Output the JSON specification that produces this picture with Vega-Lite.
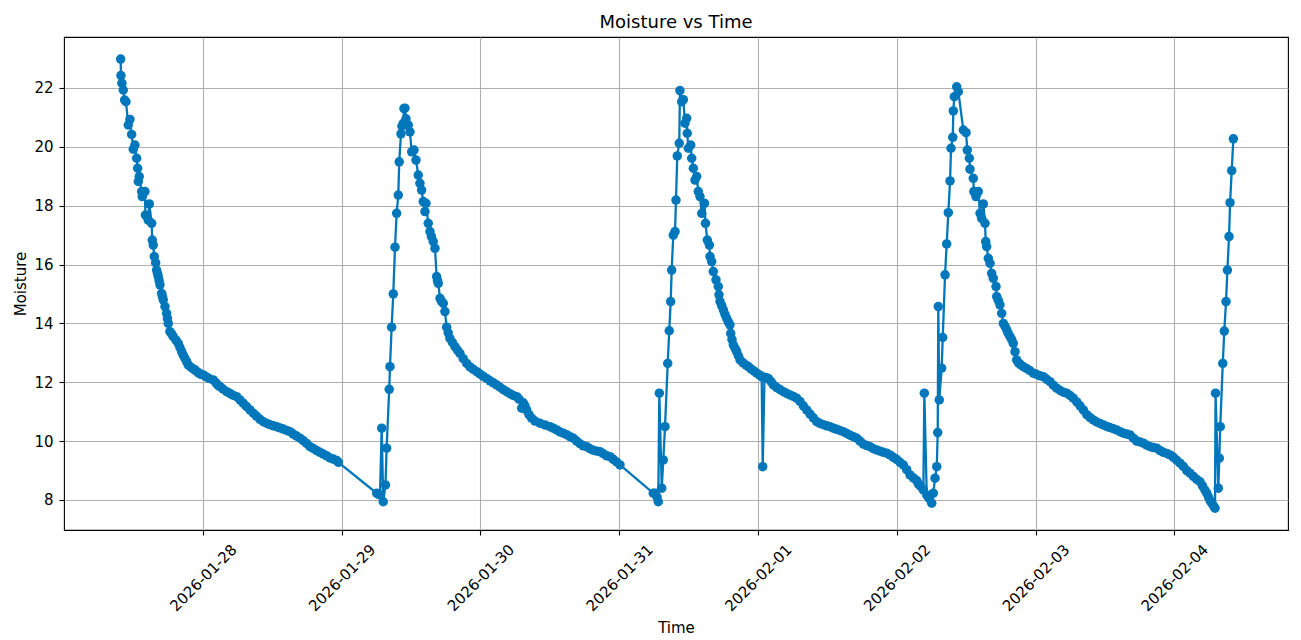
{
  "$schema": "https://vega.github.io/schema/vega-lite/v6.json",
  "width": 1224,
  "height": 493,
  "autosize": {"type": "none"},
  "padding": {"left": 64, "top": 37, "right": 13, "bottom": 110},
  "title": {
    "text": "Moisture vs Time",
    "fontSize": 18,
    "fontWeight": "normal",
    "font": "DejaVu Sans",
    "color": "black",
    "anchor": "middle",
    "baseline": "alphabetic",
    "offset": 9.5,
    "dy": 18.5
  },
  "data": {
    "values": [
      {"t": "2026-01-27T09:46", "m": 22.98},
      {"t": "2026-01-27T09:49", "m": 22.42},
      {"t": "2026-01-27T09:59", "m": 22.16},
      {"t": "2026-01-27T10:13", "m": 21.93},
      {"t": "2026-01-27T10:27", "m": 21.59},
      {"t": "2026-01-27T10:41", "m": 21.53},
      {"t": "2026-01-27T11:05", "m": 20.74},
      {"t": "2026-01-27T11:22", "m": 20.93},
      {"t": "2026-01-27T11:40", "m": 20.42},
      {"t": "2026-01-27T11:57", "m": 19.92},
      {"t": "2026-01-27T12:14", "m": 20.06},
      {"t": "2026-01-27T12:32", "m": 19.61},
      {"t": "2026-01-27T12:42", "m": 19.27},
      {"t": "2026-01-27T12:49", "m": 18.82},
      {"t": "2026-01-27T12:59", "m": 18.99},
      {"t": "2026-01-27T13:24", "m": 18.48},
      {"t": "2026-01-27T13:30", "m": 18.31},
      {"t": "2026-01-27T13:58", "m": 18.48},
      {"t": "2026-01-27T14:03", "m": 17.68},
      {"t": "2026-01-27T14:32", "m": 17.51},
      {"t": "2026-01-27T14:43", "m": 18.06},
      {"t": "2026-01-27T15:08", "m": 17.40},
      {"t": "2026-01-27T15:14", "m": 16.83},
      {"t": "2026-01-27T15:24", "m": 16.66},
      {"t": "2026-01-27T15:35", "m": 16.27},
      {"t": "2026-01-27T15:49", "m": 16.06},
      {"t": "2026-01-27T15:59", "m": 15.81},
      {"t": "2026-01-27T16:08", "m": 15.70},
      {"t": "2026-01-27T16:16", "m": 15.59},
      {"t": "2026-01-27T16:25", "m": 15.45},
      {"t": "2026-01-27T16:34", "m": 15.31},
      {"t": "2026-01-27T16:51", "m": 15.02},
      {"t": "2026-01-27T17:00", "m": 14.91},
      {"t": "2026-01-27T17:08", "m": 14.80},
      {"t": "2026-01-27T17:26", "m": 14.57},
      {"t": "2026-01-27T17:43", "m": 14.34},
      {"t": "2026-01-27T17:51", "m": 14.17},
      {"t": "2026-01-27T18:00", "m": 14.00},
      {"t": "2026-01-27T18:17", "m": 13.72},
      {"t": "2026-01-27T18:35", "m": 13.64},
      {"t": "2026-01-27T18:52", "m": 13.55},
      {"t": "2026-01-27T19:20", "m": 13.43},
      {"t": "2026-01-27T19:44", "m": 13.32},
      {"t": "2026-01-27T20:01", "m": 13.18},
      {"t": "2026-01-27T20:19", "m": 13.04},
      {"t": "2026-01-27T20:35", "m": 12.92},
      {"t": "2026-01-27T20:53", "m": 12.81},
      {"t": "2026-01-27T21:11", "m": 12.70},
      {"t": "2026-01-27T21:27", "m": 12.59},
      {"t": "2026-01-27T21:55", "m": 12.51},
      {"t": "2026-01-27T22:16", "m": 12.46},
      {"t": "2026-01-27T22:37", "m": 12.42},
      {"t": "2026-01-27T22:58", "m": 12.36},
      {"t": "2026-01-27T23:18", "m": 12.31},
      {"t": "2026-01-27T23:39", "m": 12.27},
      {"t": "2026-01-28T00:03", "m": 12.25},
      {"t": "2026-01-28T00:31", "m": 12.19},
      {"t": "2026-01-28T01:02", "m": 12.13},
      {"t": "2026-01-28T01:47", "m": 12.08},
      {"t": "2026-01-28T02:15", "m": 11.98},
      {"t": "2026-01-28T02:36", "m": 11.90},
      {"t": "2026-01-28T02:56", "m": 11.85},
      {"t": "2026-01-28T03:28", "m": 11.77},
      {"t": "2026-01-28T04:06", "m": 11.68},
      {"t": "2026-01-28T04:40", "m": 11.62},
      {"t": "2026-01-28T05:11", "m": 11.56},
      {"t": "2026-01-28T05:50", "m": 11.51},
      {"t": "2026-01-28T06:24", "m": 11.40},
      {"t": "2026-01-28T06:58", "m": 11.29},
      {"t": "2026-01-28T07:31", "m": 11.18},
      {"t": "2026-01-28T08:08", "m": 11.06},
      {"t": "2026-01-28T08:42", "m": 10.95},
      {"t": "2026-01-28T09:15", "m": 10.85},
      {"t": "2026-01-28T09:52", "m": 10.74},
      {"t": "2026-01-28T10:26", "m": 10.66},
      {"t": "2026-01-28T11:04", "m": 10.60},
      {"t": "2026-01-28T11:35", "m": 10.56},
      {"t": "2026-01-28T12:12", "m": 10.52},
      {"t": "2026-01-28T12:45", "m": 10.49},
      {"t": "2026-01-28T13:19", "m": 10.45},
      {"t": "2026-01-28T13:53", "m": 10.41},
      {"t": "2026-01-28T14:29", "m": 10.36},
      {"t": "2026-01-28T15:03", "m": 10.32},
      {"t": "2026-01-28T15:37", "m": 10.24},
      {"t": "2026-01-28T16:12", "m": 10.17},
      {"t": "2026-01-28T16:47", "m": 10.10},
      {"t": "2026-01-28T17:21", "m": 10.02},
      {"t": "2026-01-28T17:56", "m": 9.92},
      {"t": "2026-01-28T18:30", "m": 9.81},
      {"t": "2026-01-28T19:05", "m": 9.75},
      {"t": "2026-01-28T19:40", "m": 9.68},
      {"t": "2026-01-28T20:14", "m": 9.62},
      {"t": "2026-01-28T20:49", "m": 9.56},
      {"t": "2026-01-28T21:24", "m": 9.50},
      {"t": "2026-01-28T21:58", "m": 9.43},
      {"t": "2026-01-28T22:33", "m": 9.39},
      {"t": "2026-01-28T23:08", "m": 9.34},
      {"t": "2026-01-28T23:26", "m": 9.28},
      {"t": "2026-01-29T06:03", "m": 8.23},
      {"t": "2026-01-29T06:21", "m": 8.20},
      {"t": "2026-01-29T06:37", "m": 8.17},
      {"t": "2026-01-29T06:55", "m": 10.44},
      {"t": "2026-01-29T07:11", "m": 7.94},
      {"t": "2026-01-29T07:34", "m": 8.51},
      {"t": "2026-01-29T07:46", "m": 9.76},
      {"t": "2026-01-29T08:13", "m": 11.76},
      {"t": "2026-01-29T08:21", "m": 12.53},
      {"t": "2026-01-29T08:38", "m": 13.87},
      {"t": "2026-01-29T08:55", "m": 15.00},
      {"t": "2026-01-29T09:13", "m": 16.59},
      {"t": "2026-01-29T09:30", "m": 17.74},
      {"t": "2026-01-29T09:47", "m": 18.36},
      {"t": "2026-01-29T09:57", "m": 19.49},
      {"t": "2026-01-29T10:15", "m": 20.44},
      {"t": "2026-01-29T10:25", "m": 20.70},
      {"t": "2026-01-29T10:39", "m": 20.80},
      {"t": "2026-01-29T10:46", "m": 21.30},
      {"t": "2026-01-29T10:56", "m": 21.31},
      {"t": "2026-01-29T11:07", "m": 20.95},
      {"t": "2026-01-29T11:31", "m": 20.74},
      {"t": "2026-01-29T11:48", "m": 20.51},
      {"t": "2026-01-29T12:06", "m": 19.83},
      {"t": "2026-01-29T12:30", "m": 19.89},
      {"t": "2026-01-29T12:51", "m": 19.55},
      {"t": "2026-01-29T13:14", "m": 19.04},
      {"t": "2026-01-29T13:32", "m": 18.76},
      {"t": "2026-01-29T13:49", "m": 18.53},
      {"t": "2026-01-29T14:06", "m": 18.14},
      {"t": "2026-01-29T14:24", "m": 17.80},
      {"t": "2026-01-29T14:34", "m": 18.08},
      {"t": "2026-01-29T14:58", "m": 17.40},
      {"t": "2026-01-29T15:16", "m": 17.12},
      {"t": "2026-01-29T15:31", "m": 16.95},
      {"t": "2026-01-29T15:50", "m": 16.78},
      {"t": "2026-01-29T16:08", "m": 16.55},
      {"t": "2026-01-29T16:25", "m": 15.59},
      {"t": "2026-01-29T16:34", "m": 15.45},
      {"t": "2026-01-29T16:42", "m": 15.36},
      {"t": "2026-01-29T17:00", "m": 14.85},
      {"t": "2026-01-29T17:15", "m": 14.75},
      {"t": "2026-01-29T17:34", "m": 14.68},
      {"t": "2026-01-29T17:51", "m": 14.40},
      {"t": "2026-01-29T18:09", "m": 13.87},
      {"t": "2026-01-29T18:25", "m": 13.68},
      {"t": "2026-01-29T18:43", "m": 13.49},
      {"t": "2026-01-29T19:09", "m": 13.35},
      {"t": "2026-01-29T19:35", "m": 13.21},
      {"t": "2026-01-29T20:01", "m": 13.09},
      {"t": "2026-01-29T20:27", "m": 12.98},
      {"t": "2026-01-29T21:01", "m": 12.80},
      {"t": "2026-01-29T21:37", "m": 12.64},
      {"t": "2026-01-29T22:11", "m": 12.52},
      {"t": "2026-01-29T22:45", "m": 12.44},
      {"t": "2026-01-29T23:21", "m": 12.36},
      {"t": "2026-01-29T23:55", "m": 12.28},
      {"t": "2026-01-30T00:29", "m": 12.20},
      {"t": "2026-01-30T01:04", "m": 12.13},
      {"t": "2026-01-30T01:39", "m": 12.05},
      {"t": "2026-01-30T02:13", "m": 11.98},
      {"t": "2026-01-30T02:48", "m": 11.91},
      {"t": "2026-01-30T03:22", "m": 11.83},
      {"t": "2026-01-30T03:57", "m": 11.75},
      {"t": "2026-01-30T04:32", "m": 11.68},
      {"t": "2026-01-30T05:06", "m": 11.61},
      {"t": "2026-01-30T05:40", "m": 11.55},
      {"t": "2026-01-30T06:16", "m": 11.51},
      {"t": "2026-01-30T06:40", "m": 11.43},
      {"t": "2026-01-30T07:08", "m": 11.12},
      {"t": "2026-01-30T07:24", "m": 11.30},
      {"t": "2026-01-30T07:42", "m": 11.20},
      {"t": "2026-01-30T07:59", "m": 11.06},
      {"t": "2026-01-30T08:23", "m": 10.90},
      {"t": "2026-01-30T08:51", "m": 10.78},
      {"t": "2026-01-30T09:26", "m": 10.68},
      {"t": "2026-01-30T10:17", "m": 10.61},
      {"t": "2026-01-30T11:09", "m": 10.55},
      {"t": "2026-01-30T12:01", "m": 10.49},
      {"t": "2026-01-30T12:36", "m": 10.44},
      {"t": "2026-01-30T13:11", "m": 10.38},
      {"t": "2026-01-30T13:45", "m": 10.31},
      {"t": "2026-01-30T14:19", "m": 10.27},
      {"t": "2026-01-30T14:54", "m": 10.22},
      {"t": "2026-01-30T15:29", "m": 10.15},
      {"t": "2026-01-30T16:03", "m": 10.10},
      {"t": "2026-01-30T16:38", "m": 10.00},
      {"t": "2026-01-30T17:13", "m": 9.91},
      {"t": "2026-01-30T17:47", "m": 9.84},
      {"t": "2026-01-30T18:22", "m": 9.81},
      {"t": "2026-01-30T18:56", "m": 9.74},
      {"t": "2026-01-30T19:31", "m": 9.69},
      {"t": "2026-01-30T20:06", "m": 9.66},
      {"t": "2026-01-30T20:40", "m": 9.64},
      {"t": "2026-01-30T21:15", "m": 9.57},
      {"t": "2026-01-30T21:50", "m": 9.50},
      {"t": "2026-01-30T22:24", "m": 9.47},
      {"t": "2026-01-30T22:58", "m": 9.38},
      {"t": "2026-01-30T23:33", "m": 9.29},
      {"t": "2026-01-31T00:08", "m": 9.19},
      {"t": "2026-01-31T05:53", "m": 8.23},
      {"t": "2026-01-31T06:11", "m": 8.23},
      {"t": "2026-01-31T06:32", "m": 8.10},
      {"t": "2026-01-31T06:45", "m": 7.94},
      {"t": "2026-01-31T06:56", "m": 11.63},
      {"t": "2026-01-31T07:21", "m": 8.40},
      {"t": "2026-01-31T07:37", "m": 9.36},
      {"t": "2026-01-31T07:55", "m": 10.49},
      {"t": "2026-01-31T08:23", "m": 12.64},
      {"t": "2026-01-31T08:39", "m": 13.75},
      {"t": "2026-01-31T08:54", "m": 14.74},
      {"t": "2026-01-31T09:04", "m": 15.81},
      {"t": "2026-01-31T09:21", "m": 17.00},
      {"t": "2026-01-31T09:39", "m": 17.12},
      {"t": "2026-01-31T09:49", "m": 18.19},
      {"t": "2026-01-31T10:02", "m": 19.69},
      {"t": "2026-01-31T10:23", "m": 20.12},
      {"t": "2026-01-31T10:30", "m": 21.91},
      {"t": "2026-01-31T10:48", "m": 21.53},
      {"t": "2026-01-31T11:05", "m": 21.60},
      {"t": "2026-01-31T11:22", "m": 20.80},
      {"t": "2026-01-31T11:40", "m": 20.97},
      {"t": "2026-01-31T11:46", "m": 20.46},
      {"t": "2026-01-31T11:57", "m": 19.95},
      {"t": "2026-01-31T12:22", "m": 20.06},
      {"t": "2026-01-31T12:32", "m": 19.61},
      {"t": "2026-01-31T12:49", "m": 19.27},
      {"t": "2026-01-31T13:06", "m": 18.87},
      {"t": "2026-01-31T13:24", "m": 18.99},
      {"t": "2026-01-31T13:40", "m": 18.48},
      {"t": "2026-01-31T13:58", "m": 18.31},
      {"t": "2026-01-31T14:16", "m": 17.74},
      {"t": "2026-01-31T14:45", "m": 18.08},
      {"t": "2026-01-31T14:55", "m": 17.40},
      {"t": "2026-01-31T15:14", "m": 16.83},
      {"t": "2026-01-31T15:35", "m": 16.66},
      {"t": "2026-01-31T15:42", "m": 16.27},
      {"t": "2026-01-31T15:59", "m": 16.10},
      {"t": "2026-01-31T16:16", "m": 15.76},
      {"t": "2026-01-31T16:44", "m": 15.48},
      {"t": "2026-01-31T17:08", "m": 15.25},
      {"t": "2026-01-31T17:15", "m": 14.97},
      {"t": "2026-01-31T17:26", "m": 14.74},
      {"t": "2026-01-31T17:43", "m": 14.60},
      {"t": "2026-01-31T18:00", "m": 14.46},
      {"t": "2026-01-31T18:18", "m": 14.30},
      {"t": "2026-01-31T18:35", "m": 14.17},
      {"t": "2026-01-31T18:52", "m": 14.05},
      {"t": "2026-01-31T19:09", "m": 13.95},
      {"t": "2026-01-31T19:17", "m": 13.66},
      {"t": "2026-01-31T19:30", "m": 13.45},
      {"t": "2026-01-31T19:44", "m": 13.27},
      {"t": "2026-01-31T20:02", "m": 13.15},
      {"t": "2026-01-31T20:19", "m": 13.04},
      {"t": "2026-01-31T20:36", "m": 12.90},
      {"t": "2026-01-31T20:54", "m": 12.76},
      {"t": "2026-01-31T21:25", "m": 12.66},
      {"t": "2026-01-31T21:56", "m": 12.58},
      {"t": "2026-01-31T22:20", "m": 12.53},
      {"t": "2026-01-31T22:48", "m": 12.45},
      {"t": "2026-01-31T23:19", "m": 12.38},
      {"t": "2026-01-31T23:47", "m": 12.31},
      {"t": "2026-02-01T00:16", "m": 12.25},
      {"t": "2026-02-01T00:38", "m": 12.19},
      {"t": "2026-02-01T00:49", "m": 9.13},
      {"t": "2026-02-01T01:07", "m": 12.17},
      {"t": "2026-02-01T01:28", "m": 12.15},
      {"t": "2026-02-01T01:47", "m": 12.13},
      {"t": "2026-02-01T02:15", "m": 12.02},
      {"t": "2026-02-01T02:39", "m": 11.91},
      {"t": "2026-02-01T03:14", "m": 11.82},
      {"t": "2026-02-01T03:48", "m": 11.75},
      {"t": "2026-02-01T04:23", "m": 11.68},
      {"t": "2026-02-01T04:58", "m": 11.62},
      {"t": "2026-02-01T05:32", "m": 11.57},
      {"t": "2026-02-01T06:07", "m": 11.52},
      {"t": "2026-02-01T06:41", "m": 11.46},
      {"t": "2026-02-01T07:16", "m": 11.35},
      {"t": "2026-02-01T07:50", "m": 11.20},
      {"t": "2026-02-01T08:25", "m": 11.06},
      {"t": "2026-02-01T09:00", "m": 10.92},
      {"t": "2026-02-01T09:34", "m": 10.79},
      {"t": "2026-02-01T10:09", "m": 10.66},
      {"t": "2026-02-01T10:43", "m": 10.60},
      {"t": "2026-02-01T11:18", "m": 10.56},
      {"t": "2026-02-01T11:53", "m": 10.52},
      {"t": "2026-02-01T12:27", "m": 10.49},
      {"t": "2026-02-01T13:02", "m": 10.44},
      {"t": "2026-02-01T13:36", "m": 10.40},
      {"t": "2026-02-01T14:11", "m": 10.36},
      {"t": "2026-02-01T14:45", "m": 10.32},
      {"t": "2026-02-01T15:20", "m": 10.26},
      {"t": "2026-02-01T15:55", "m": 10.20},
      {"t": "2026-02-01T16:29", "m": 10.15},
      {"t": "2026-02-01T17:04", "m": 10.10},
      {"t": "2026-02-01T17:38", "m": 10.00},
      {"t": "2026-02-01T18:13", "m": 9.90},
      {"t": "2026-02-01T18:48", "m": 9.85},
      {"t": "2026-02-01T19:22", "m": 9.81},
      {"t": "2026-02-01T19:57", "m": 9.74},
      {"t": "2026-02-01T20:32", "m": 9.70},
      {"t": "2026-02-01T21:06", "m": 9.66},
      {"t": "2026-02-01T21:41", "m": 9.62},
      {"t": "2026-02-01T22:15", "m": 9.59},
      {"t": "2026-02-01T22:50", "m": 9.53},
      {"t": "2026-02-01T23:25", "m": 9.45},
      {"t": "2026-02-01T23:58", "m": 9.38},
      {"t": "2026-02-02T00:34", "m": 9.28},
      {"t": "2026-02-02T01:08", "m": 9.19},
      {"t": "2026-02-02T01:43", "m": 9.03},
      {"t": "2026-02-02T02:18", "m": 8.85},
      {"t": "2026-02-02T02:52", "m": 8.75},
      {"t": "2026-02-02T03:27", "m": 8.66},
      {"t": "2026-02-02T03:44", "m": 8.55},
      {"t": "2026-02-02T04:06", "m": 8.47},
      {"t": "2026-02-02T04:36", "m": 8.34},
      {"t": "2026-02-02T04:46", "m": 11.63},
      {"t": "2026-02-02T05:11", "m": 8.17},
      {"t": "2026-02-02T05:35", "m": 8.05},
      {"t": "2026-02-02T06:03", "m": 7.89},
      {"t": "2026-02-02T06:19", "m": 8.23},
      {"t": "2026-02-02T06:37", "m": 8.74},
      {"t": "2026-02-02T06:55", "m": 9.13},
      {"t": "2026-02-02T07:05", "m": 10.29},
      {"t": "2026-02-02T07:11", "m": 14.57},
      {"t": "2026-02-02T07:21", "m": 11.40},
      {"t": "2026-02-02T07:46", "m": 12.48},
      {"t": "2026-02-02T07:57", "m": 13.52},
      {"t": "2026-02-02T08:21", "m": 15.65},
      {"t": "2026-02-02T08:38", "m": 16.70},
      {"t": "2026-02-02T08:55", "m": 17.76},
      {"t": "2026-02-02T09:13", "m": 18.84},
      {"t": "2026-02-02T09:23", "m": 19.95},
      {"t": "2026-02-02T09:41", "m": 20.32},
      {"t": "2026-02-02T09:47", "m": 21.22},
      {"t": "2026-02-02T09:57", "m": 21.70},
      {"t": "2026-02-02T10:22", "m": 22.04},
      {"t": "2026-02-02T10:39", "m": 21.87},
      {"t": "2026-02-02T11:31", "m": 20.57},
      {"t": "2026-02-02T11:59", "m": 20.48},
      {"t": "2026-02-02T12:12", "m": 19.89},
      {"t": "2026-02-02T12:33", "m": 19.61},
      {"t": "2026-02-02T12:40", "m": 19.24},
      {"t": "2026-02-02T13:14", "m": 18.93},
      {"t": "2026-02-02T13:20", "m": 18.48},
      {"t": "2026-02-02T13:42", "m": 18.31},
      {"t": "2026-02-02T14:06", "m": 18.48},
      {"t": "2026-02-02T14:24", "m": 17.74},
      {"t": "2026-02-02T14:41", "m": 17.57},
      {"t": "2026-02-02T14:58", "m": 18.06},
      {"t": "2026-02-02T15:16", "m": 17.40},
      {"t": "2026-02-02T15:23", "m": 16.78},
      {"t": "2026-02-02T15:33", "m": 16.61},
      {"t": "2026-02-02T15:50", "m": 16.21},
      {"t": "2026-02-02T16:08", "m": 16.04},
      {"t": "2026-02-02T16:25", "m": 15.70},
      {"t": "2026-02-02T16:42", "m": 15.53},
      {"t": "2026-02-02T17:10", "m": 15.25},
      {"t": "2026-02-02T17:17", "m": 14.91},
      {"t": "2026-02-02T17:34", "m": 14.78},
      {"t": "2026-02-02T17:51", "m": 14.63},
      {"t": "2026-02-02T18:09", "m": 14.34},
      {"t": "2026-02-02T18:26", "m": 14.00},
      {"t": "2026-02-02T18:43", "m": 13.90},
      {"t": "2026-02-02T19:01", "m": 13.78},
      {"t": "2026-02-02T19:17", "m": 13.66},
      {"t": "2026-02-02T19:35", "m": 13.55},
      {"t": "2026-02-02T19:52", "m": 13.45},
      {"t": "2026-02-02T20:09", "m": 13.32},
      {"t": "2026-02-02T20:27", "m": 13.04},
      {"t": "2026-02-02T20:44", "m": 12.76},
      {"t": "2026-02-02T21:03", "m": 12.66},
      {"t": "2026-02-02T21:24", "m": 12.60},
      {"t": "2026-02-02T21:53", "m": 12.53},
      {"t": "2026-02-02T22:26", "m": 12.47},
      {"t": "2026-02-02T22:59", "m": 12.40},
      {"t": "2026-02-02T23:37", "m": 12.31},
      {"t": "2026-02-03T00:10", "m": 12.27},
      {"t": "2026-02-03T00:47", "m": 12.22},
      {"t": "2026-02-03T01:21", "m": 12.19},
      {"t": "2026-02-03T01:56", "m": 12.10},
      {"t": "2026-02-03T02:30", "m": 12.02},
      {"t": "2026-02-03T03:05", "m": 11.90},
      {"t": "2026-02-03T03:40", "m": 11.80},
      {"t": "2026-02-03T04:14", "m": 11.72},
      {"t": "2026-02-03T04:49", "m": 11.66},
      {"t": "2026-02-03T05:24", "m": 11.63},
      {"t": "2026-02-03T05:58", "m": 11.55},
      {"t": "2026-02-03T06:32", "m": 11.46},
      {"t": "2026-02-03T07:08", "m": 11.33},
      {"t": "2026-02-03T07:42", "m": 11.20},
      {"t": "2026-02-03T08:16", "m": 11.06},
      {"t": "2026-02-03T08:51", "m": 10.90},
      {"t": "2026-02-03T09:26", "m": 10.80},
      {"t": "2026-02-03T10:00", "m": 10.72},
      {"t": "2026-02-03T10:35", "m": 10.65},
      {"t": "2026-02-03T11:09", "m": 10.60},
      {"t": "2026-02-03T11:44", "m": 10.55},
      {"t": "2026-02-03T12:19", "m": 10.50},
      {"t": "2026-02-03T12:53", "m": 10.46},
      {"t": "2026-02-03T13:28", "m": 10.42},
      {"t": "2026-02-03T14:03", "m": 10.38},
      {"t": "2026-02-03T14:37", "m": 10.32},
      {"t": "2026-02-03T15:12", "m": 10.27},
      {"t": "2026-02-03T15:47", "m": 10.24},
      {"t": "2026-02-03T16:21", "m": 10.21},
      {"t": "2026-02-03T16:56", "m": 10.10},
      {"t": "2026-02-03T17:30", "m": 10.00},
      {"t": "2026-02-03T18:05", "m": 9.97},
      {"t": "2026-02-03T18:40", "m": 9.93},
      {"t": "2026-02-03T19:14", "m": 9.86},
      {"t": "2026-02-03T19:49", "m": 9.81},
      {"t": "2026-02-03T20:23", "m": 9.78},
      {"t": "2026-02-03T20:58", "m": 9.76},
      {"t": "2026-02-03T21:32", "m": 9.68},
      {"t": "2026-02-03T22:07", "m": 9.62},
      {"t": "2026-02-03T22:42", "m": 9.58},
      {"t": "2026-02-03T23:16", "m": 9.53},
      {"t": "2026-02-03T23:51", "m": 9.45},
      {"t": "2026-02-04T00:25", "m": 9.35},
      {"t": "2026-02-04T01:00", "m": 9.25},
      {"t": "2026-02-04T01:34", "m": 9.14},
      {"t": "2026-02-04T02:09", "m": 9.00},
      {"t": "2026-02-04T02:43", "m": 8.91},
      {"t": "2026-02-04T03:18", "m": 8.80},
      {"t": "2026-02-04T03:53", "m": 8.70},
      {"t": "2026-02-04T04:27", "m": 8.62},
      {"t": "2026-02-04T04:53", "m": 8.48},
      {"t": "2026-02-04T05:19", "m": 8.33},
      {"t": "2026-02-04T05:37", "m": 8.23},
      {"t": "2026-02-04T05:55", "m": 8.10},
      {"t": "2026-02-04T06:11", "m": 7.98},
      {"t": "2026-02-04T06:29", "m": 7.89},
      {"t": "2026-02-04T06:47", "m": 7.80},
      {"t": "2026-02-04T07:03", "m": 7.72},
      {"t": "2026-02-04T07:08", "m": 11.63},
      {"t": "2026-02-04T07:37", "m": 8.40},
      {"t": "2026-02-04T07:47", "m": 9.42},
      {"t": "2026-02-04T07:57", "m": 10.49},
      {"t": "2026-02-04T08:23", "m": 12.64},
      {"t": "2026-02-04T08:39", "m": 13.74},
      {"t": "2026-02-04T08:57", "m": 14.74},
      {"t": "2026-02-04T09:11", "m": 15.81},
      {"t": "2026-02-04T09:28", "m": 16.95},
      {"t": "2026-02-04T09:39", "m": 18.10},
      {"t": "2026-02-04T09:56", "m": 19.19},
      {"t": "2026-02-04T10:13", "m": 20.27}
    ]
  },
  "mark": {
    "type": "line",
    "color": "#0077bb",
    "strokeWidth": 2.3,
    "point": {"filled": true, "size": 90, "color": "#0077bb", "opacity": 1}
  },
  "encoding": {
    "x": {
      "field": "t",
      "type": "temporal",
      "title": "Time",
      "scale": {
        "domain": [
          {"year": 2026, "month": 1, "date": 26, "hours": 23, "minutes": 58},
          {"year": 2026, "month": 2, "date": 4, "hours": 19, "minutes": 40}
        ]
      },
      "axis": {
        "values": [
          {"year": 2026, "month": 1, "date": 28},
          {"year": 2026, "month": 1, "date": 29},
          {"year": 2026, "month": 1, "date": 30},
          {"year": 2026, "month": 1, "date": 31},
          {"year": 2026, "month": 2, "date": 1},
          {"year": 2026, "month": 2, "date": 2},
          {"year": 2026, "month": 2, "date": 3},
          {"year": 2026, "month": 2, "date": 4}
        ],
        "format": "%Y-%m-%d",
        "labelAngle": -45,
        "labelAlign": "center",
        "labelBaseline": "middle",
        "labelPadding": 42.5,
        "labelFlush": false,
        "labelOverlap": false,
        "titleY": 102,
        "titleBaseline": "alphabetic"
      }
    },
    "y": {
      "field": "m",
      "type": "quantitative",
      "title": "Moisture",
      "scale": {"domain": [6.98, 23.73], "nice": false, "zero": false},
      "axis": {
        "values": [8, 10, 12, 14, 16, 18, 20, 22],
        "labelPadding": 6,
        "titleX": -39,
        "titleBaseline": "alphabetic"
      }
    }
  },
  "config": {
    "font": "DejaVu Sans",
    "view": {"stroke": "black", "strokeWidth": 1.1},
    "axis": {
      "labelFont": "DejaVu Sans",
      "labelFontSize": 15,
      "labelColor": "black",
      "titleFont": "DejaVu Sans",
      "titleFontSize": 15,
      "titleFontWeight": "normal",
      "titleColor": "black",
      "tickColor": "black",
      "tickSize": 5,
      "tickWidth": 1.1,
      "domain": false,
      "grid": true,
      "gridColor": "#b0b0b0",
      "gridWidth": 1.1,
      "gridOpacity": 1
    }
  }
}
